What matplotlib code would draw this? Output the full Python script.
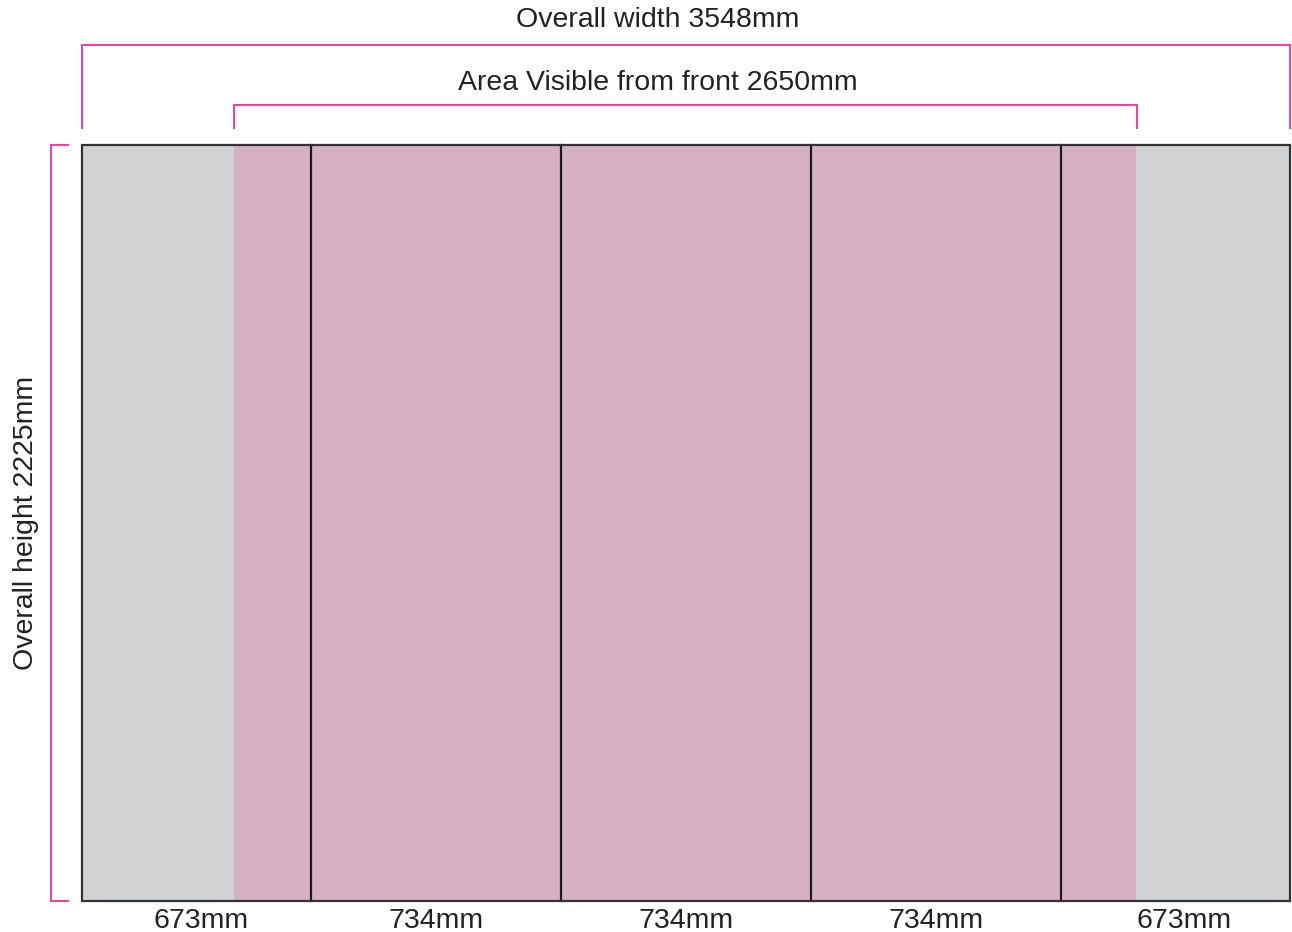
import matplotlib
matplotlib.use("Agg")
import matplotlib.pyplot as plt
from matplotlib.patches import Rectangle

# ---- data ----
panel_widths = [673, 734, 734, 734, 673]
panel_labels = ["673mm", "734mm", "734mm", "734mm", "673mm"]
overall_width = 3548
overall_height = 2225
visible_width = 2650
title_overall = "Overall width 3548mm"
title_visible = "Area Visible from front 2650mm"
title_height = "Overall height 2225mm"

# ---- styling ----
GREY = "#D1D2D4"
PINK = "#D6B1C4"
MAGENTA = "#EE3EA3"
EDGE = "#333333"
TXT = "#222222"
FS = 20.5
plt.rcParams["font.family"] = ["Liberation Sans", "DejaVu Sans"]

W, H = 1292, 932
fig = plt.figure(figsize=(W / 100, H / 100), dpi=100)
ax = fig.add_axes([0, 0, 1, 1])
ax.set_axis_off()

# pixel mapping: rectangle spans x 82..1290, y 145..901
sx = (1290 - 82) / overall_width
sy = (901 - 145) / overall_height
ax.set_xlim(-82 / sx, (W - 82) / sx)
ax.set_ylim(-(H - 901) / sy, 901 / sy)


def py(p):
    return (901 - p) / sy


def px(p):
    return (p - 82) / sx


# background grey panel
ax.add_patch(Rectangle((0, 0), overall_width, overall_height, facecolor=GREY,
                       edgecolor="none", zorder=1))
# visible area
vis_left = (overall_width - visible_width) / 2
ax.add_patch(Rectangle((vis_left - 1 / sx, 2), visible_width, overall_height - 4,
                       facecolor=PINK, edgecolor="none", zorder=2))
# outline
ax.add_patch(Rectangle((0, 0), overall_width, overall_height, facecolor="none",
                       edgecolor=EDGE, linewidth=1.6, zorder=4))

# panel dividers and labels
x = 0
edges = [0]
for w in panel_widths:
    x += w
    edges.append(x)
for e in edges[1:-1]:
    ax.plot([e, e], [0, overall_height], color="#1a1a1a", lw=1.6, zorder=3)
nudges_px = [4, 0, 0, 0, 9]
for i, lab in enumerate(panel_labels):
    cx = (edges[i] + edges[i + 1]) / 2
    ax.text(cx + nudges_px[i] / sx, py(921), lab, ha="center", va="center",
            fontsize=FS, color=TXT)

lw_b = 1.4
title_cx = px(658)
# overall width bracket
ax.plot([0, 0, overall_width, overall_width], [py(128), py(45), py(45), py(128)],
        color=MAGENTA, lw=lw_b, solid_joinstyle="miter")
ax.text(title_cx, py(19.5), title_overall, ha="center", va="center",
        fontsize=FS, color=TXT)
# visible bracket
vr = vis_left + visible_width
ax.plot([vis_left - 1 / sx, vis_left - 1 / sx, vr, vr],
        [py(128), py(105), py(105), py(128)],
        color=MAGENTA, lw=lw_b, solid_joinstyle="miter")
ax.text(title_cx, py(82.5), title_visible, ha="center", va="center",
        fontsize=FS, color=TXT)
# height bracket
ax.plot([px(68), px(51), px(51), px(68)], [overall_height, overall_height, 0, 0],
        color=MAGENTA, lw=lw_b, solid_joinstyle="miter")
ax.text(px(26), overall_height / 2, title_height, ha="center", va="center",
        rotation=90, fontsize=FS, color=TXT)

fig.savefig("out.png", dpi=100)
